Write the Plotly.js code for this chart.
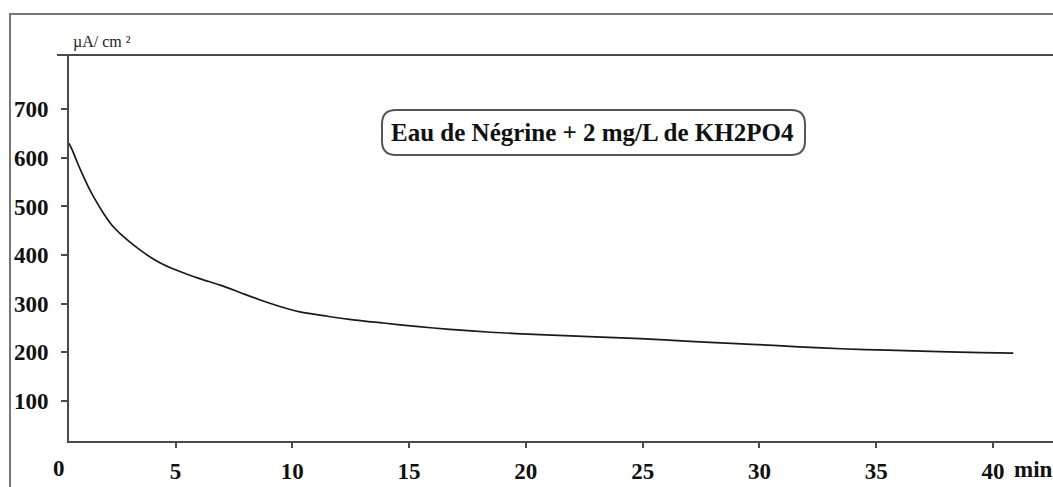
<!DOCTYPE html>
<html>
<head>
<meta charset="utf-8">
<script src="https://cdn.plot.ly/plotly-3.0.1.min.js"></script>
<style>
  html, body { margin: 0; padding: 0; background: #fff; }
  #chart { width: 1053px; height: 487px; }
</style>
</head>
<body>
<div id="chart"></div>
<script>
// Time (min) and current density (µA/cm²)
const timeMin = [0.44, 0.6, 0.8, 1.0, 1.25, 1.55, 1.9, 2.27, 2.7, 3.12, 3.55, 3.98, 4.5, 5.19, 6.0, 6.91, 7.76, 8.6, 9.47, 10.33, 11.5, 12.7, 13.9, 15.3, 16.75, 18.5, 20.6, 22.7, 24.9, 27.03, 28.8, 30.6, 31.7, 33.5, 35.5, 37.7, 39.5, 40.87];
const current = [630, 614, 590, 568, 542, 515, 487, 462, 441, 424, 408, 394, 380, 366, 352, 338, 323, 308, 294, 283, 274, 266, 260, 253, 247, 241, 236, 232, 228, 222, 218, 214, 211, 207, 204, 201, 199, 198];

const xTicks = [5, 10, 15, 20, 25, 30, 35, 40];
const yTicks = [100, 200, 300, 400, 500, 600, 700];
const xRange = [0.44, 42.57];
const yRange = [17, 812];

const chartTitle = "Eau de Négrine + 2 mg/L de KH2PO4";
const yUnit = "µA/ cm ²";
const xUnit = "min";

const W = 1053, H = 487;
const M = {l: 69, r: 0, t: 55, b: 46};
const pw = W - M.l - M.r, ph = H - M.t - M.b;
const px = v => (v - M.l) / pw;        // pixel -> paper x
const py = v => (H - M.b - v) / ph;    // pixel -> paper y

const serif = "Liberation Serif";
const axisColor = "#4a4a4a";

// rounded box around the label
function roundedBox(x1, y1, x2, y2, r) {
  const P = (x, y) => px(x).toFixed(5) + "," + py(y).toFixed(5);
  return "M" + P(x1 + r, y1) + " L" + P(x2 - r, y1) +
         " Q" + P(x2, y1) + " " + P(x2, y1 + r) +
         " L" + P(x2, y2 - r) +
         " Q" + P(x2, y2) + " " + P(x2 - r, y2) +
         " L" + P(x1 + r, y2) +
         " Q" + P(x1, y2) + " " + P(x1, y2 - r) +
         " L" + P(x1, y1 + r) +
         " Q" + P(x1, y1) + " " + P(x1 + r, y1) + " Z";
}

const zeroPaper = (0 - xRange[0]) / (xRange[1] - xRange[0]);

const trace = {
  x: timeMin, y: current, type: "scatter", mode: "lines",
  line: {color: "#1a1a1a", width: 1.7, shape: "spline", smoothing: 0.8},
  hoverinfo: "skip"
};

const tickFont = {family: serif, size: 23, weight: 700, color: "#111"};

const layout = {
  width: W, height: H,
  margin: M,
  paper_bgcolor: "#fff", plot_bgcolor: "#fff",
  showlegend: false,
  font: {family: serif, color: "#111"},
  xaxis: {
    range: xRange, tickvals: xTicks, ticks: "outside", ticklen: 5, tickwidth: 2,
    tickcolor: axisColor, showline: true, linecolor: axisColor, linewidth: 2,
    showgrid: false, zeroline: false, ticklabelstandoff: 3, tickfont: tickFont
  },
  yaxis: {
    range: yRange, tickvals: yTicks, ticks: "outside", ticklen: 6, tickwidth: 2,
    tickcolor: axisColor, showline: true, linecolor: axisColor, linewidth: 2,
    showgrid: false, zeroline: false, ticklabelstandoff: 8, tickfont: tickFont
  },
  shapes: [
    {type: "rect", xref: "paper", yref: "paper", x0: px(10), x1: px(1070), y0: py(500), y1: py(14),
     line: {color: "#777", width: 2}},
    {type: "line", xref: "paper", yref: "paper", x0: px(57), x1: px(1060), y0: 1, y1: 1,
     line: {color: axisColor, width: 2}},
    {type: "path", xref: "paper", yref: "paper", path: roundedBox(382, 110, 805, 155, 14),
     line: {color: "#555", width: 2}}
  ],
  annotations: [
    {text: chartTitle, xref: "paper", yref: "paper", x: px(592), y: py(132),
     xanchor: "center", yanchor: "middle", showarrow: false,
     font: {family: serif, size: 25, weight: 700, color: "#111"}},
    {text: yUnit, xref: "paper", yref: "paper", x: px(71), y: py(42),
     xanchor: "left", yanchor: "middle", showarrow: false,
     font: {family: serif, size: 16, color: "#222"}},
    {text: "0", xref: "paper", yref: "paper", x: zeroPaper, y: py(468),
     xanchor: "center", yanchor: "middle", showarrow: false, font: tickFont},
    {text: xUnit, xref: "paper", yref: "paper", x: px(1012), y: py(469),
     xanchor: "left", yanchor: "middle", showarrow: false, font: tickFont}
  ]
};

Plotly.newPlot("chart", [trace], layout, {displayModeBar: false, staticPlot: true});
</script>
</body>
</html>
